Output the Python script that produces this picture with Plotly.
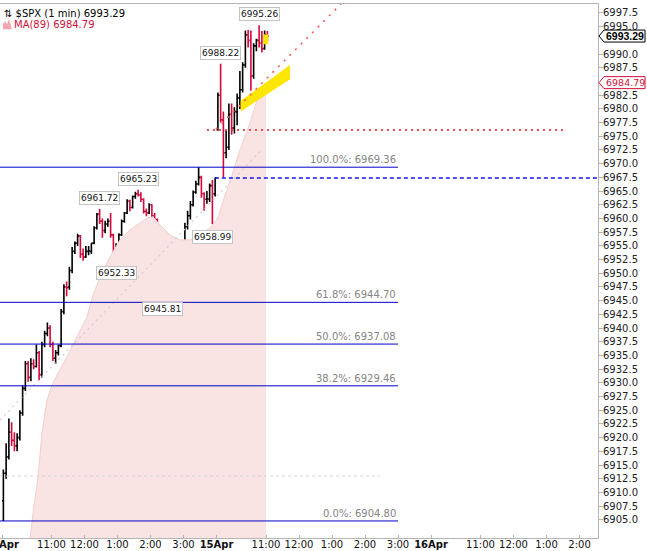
import plotly.graph_objects as go

# ---------------- data ----------------
# 5-minute OHLC bars read from the 1-minute $SPX chart (14 Apr 9:30 -> 15 Apr ~11:00)
bar_open = [6908.5, 6913.5, 6916.5, 6921.0, 6919.5, 6918.5, 6920.0, 6924.5, 6929.0, 6933.5,
            6931.0, 6933.5, 6933.0, 6935.5, 6931.5, 6937.0, 6939.0, 6940.0, 6937.0, 6934.5,
            6935.5, 6936.8, 6943.0, 6947.5, 6947.5, 6950.5, 6954.0, 6955.5, 6956.8, 6953.5,
            6953.0, 6954.0, 6954.0, 6955.5, 6958.3, 6960.8, 6959.5, 6957.8, 6959.0, 6959.5,
            6957.0, 6954.0, 6955.0, 6957.0, 6959.5, 6961.0, 6963.2, 6962.0, 6964.0, 6964.5,
            6964.3, 6963.5, 6961.3, 6961.0, 6962.5, 6960.5, 6959.8, 6955.0, 6949.5, 6947.0,
            6951.5, 6952.5, 6953.0, 6949.0, 6948.5, 6951.0, 6955.5, 6958.5, 6960.5, 6962.5,
            6964.8, 6966.3, 6967.5, 6964.5, 6963.5, 6963.5, 6966.0, 6964.5,
            6976.2, 6982.5, 6978.0, 6972.0, 6973.0, 6979.0, 6976.5, 6979.5, 6982.0, 6983.5,
            6988.0, 6993.5, 6992.5, 6986.0, 6991.5, 6992.5, 6992.0, 6991.0, 6993.5]
bar_high = [6914.2, 6919.0, 6923.5, 6922.8, 6921.0, 6920.8, 6925.0, 6929.5, 6934.0, 6934.0,
            6934.5, 6934.3, 6937.0, 6935.8, 6937.5, 6939.5, 6941.0, 6940.5, 6937.5, 6936.0,
            6937.0, 6943.5, 6948.0, 6948.5, 6951.2, 6954.8, 6955.8, 6957.2, 6957.0, 6954.5,
            6955.0, 6955.0, 6955.5, 6958.6, 6961.0, 6961.72, 6960.0, 6959.6, 6960.0, 6961.0,
            6957.2, 6955.5, 6957.3, 6959.8, 6961.2, 6963.5, 6963.4, 6964.2, 6964.9, 6965.23,
            6964.8, 6963.7, 6961.8, 6962.8, 6962.6, 6961.0, 6960.0, 6955.2, 6950.0, 6952.3,
            6952.9, 6955.4, 6953.2, 6950.0, 6951.8, 6956.0, 6959.2, 6961.4, 6963.2, 6965.1,
            6966.9, 6969.36, 6967.8, 6964.8, 6965.0, 6966.4, 6967.0, 6967.5,
            6983.0, 6988.22, 6979.5, 6976.0, 6981.0, 6981.0, 6980.3, 6982.8, 6986.9, 6988.5,
            6994.3, 6994.4, 6994.3, 6992.0, 6992.8, 6995.26, 6994.2, 6994.3, 6994.2]
bar_low = [6904.8, 6912.5, 6916.0, 6918.5, 6917.5, 6917.5, 6919.5, 6924.0, 6928.5, 6930.2,
           6930.3, 6932.5, 6932.8, 6930.5, 6931.0, 6936.5, 6938.5, 6936.5, 6934.0, 6933.5,
           6935.0, 6936.5, 6942.5, 6945.8, 6947.0, 6950.0, 6953.5, 6955.0, 6952.8, 6952.3,
           6952.8, 6953.3, 6953.5, 6955.3, 6958.0, 6959.0, 6956.5, 6957.3, 6958.5, 6956.5,
           6953.5, 6952.33, 6954.8, 6956.8, 6959.2, 6960.8, 6961.3, 6961.8, 6963.6, 6964.0,
           6963.0, 6960.9, 6960.4, 6960.8, 6960.0, 6959.5, 6954.7, 6949.0, 6945.81, 6946.8,
           6951.0, 6952.0, 6948.2, 6947.3, 6948.3, 6950.8, 6955.0, 6958.0, 6959.8, 6962.2,
           6964.5, 6966.0, 6963.8, 6961.4, 6962.7, 6963.0, 6958.99, 6964.0,
           6976.0, 6977.5, 6967.5, 6971.0, 6972.5, 6975.3, 6975.5, 6977.0, 6980.0, 6983.0,
           6987.5, 6991.2, 6983.3, 6985.5, 6990.5, 6991.2, 6990.3, 6990.8, 6992.4]
bar_close = [6913.5, 6916.5, 6921.0, 6919.5, 6918.5, 6920.0, 6924.5, 6929.0, 6933.5, 6931.0,
             6933.5, 6933.0, 6935.5, 6931.5, 6937.0, 6939.0, 6940.0, 6937.0, 6934.5, 6935.5,
             6936.8, 6943.0, 6947.5, 6947.4, 6950.5, 6954.0, 6955.5, 6956.8, 6953.5, 6953.0,
             6954.0, 6954.1, 6955.5, 6958.3, 6960.8, 6959.5, 6957.8, 6959.0, 6959.5, 6957.0,
             6954.0, 6955.0, 6957.0, 6959.5, 6961.0, 6963.2, 6962.0, 6964.0, 6964.5, 6964.3,
             6963.5, 6961.3, 6961.0, 6962.5, 6960.5, 6959.8, 6955.0, 6949.5, 6947.0, 6951.5,
             6952.5, 6953.0, 6949.0, 6948.5, 6951.0, 6955.5, 6958.5, 6960.5, 6962.5, 6964.8,
             6966.3, 6967.5, 6964.5, 6963.5, 6963.6, 6966.0, 6964.5, 6967.4,
             6982.5, 6978.0, 6972.0, 6973.0, 6979.0, 6976.5, 6979.5, 6982.0, 6983.5, 6988.0,
             6993.5, 6992.5, 6986.0, 6991.5, 6992.5, 6992.0, 6991.0, 6993.5, 6993.29]

BAR_MINUTES = 5
# session minutes since 14 Apr 9:30 (trading time, no overnight gap)
bar_time = [BAR_MINUTES * i + BAR_MINUTES / 2 for i in range(len(bar_close))]

# MA(89)
ma_time = [50, 56.4, 65.5, 72.7, 81.8, 90.9, 101.8, 118.2, 136.4, 154.5, 165.5, 178.2,
           196.4, 214.5, 232.7, 250.9, 263.6, 274.5, 287.3, 305.5, 323.6, 341.8, 360,
           378.2, 392.7, 405.5, 418.2, 432.7, 450.9, 463.6, 472.7, 480]
ma_value = [6900.5, 6906.3, 6912.8, 6920.9, 6926.9, 6929.6, 6931.8, 6934.7, 6938.4, 6942.0,
            6946.0, 6949.3, 6953.0, 6956.1, 6957.9, 6959.2, 6960.1, 6960.3, 6958.8, 6957.0,
            6956.1, 6956.1, 6957.0, 6958.3, 6960.1, 6964.3, 6967.9, 6972.5, 6977.4, 6981.6,
            6983.8, 6984.79]

fib_high = 6969.36
fib_low = 6904.80
fib_pcts = [100.0, 61.8, 50.0, 38.2, 0.0]

prev_close_level = 6967.39
open_level = 6976.15
gray_level = 6913.0

tick_minutes = [0, 90, 150, 210, 270, 330, 390, 480, 540, 600, 660, 720,
                780, 870, 930, 990, 1050]
tick_labels = ['<b>14Apr</b>', '11:00', '12:00', '1:00', '2:00', '3:00',
               '<b>15Apr</b>', '11:00', '12:00', '1:00', '2:00', '3:00',
               '<b>16Apr</b>', '11:00', '12:00', '1:00', '2:00']

price_step = 2.5
price_tick_first = 6905.0
price_tick_last = 6997.5

# labelled swing points: (bar index, which side)
swing_labels = [(93, 'high'), (79, 'high'), (49, 'high'), (35, 'high'),
                (41, 'low'), (76, 'low'), (58, 'low')]

# ---------------- layout geometry ----------------
X_RANGE = [-3.64, 1083.6]
Y_RANGE = [6901.69, 6999.14]
FONT = 'DejaVu Sans'
FIB_END = 720           # 15 Apr 3:00 pm
RED_LINE = (372.7, 1023.6)
BLUE_LINE_START = 387
DIAG_RED = ((389, 6976.3), (616.5, 6999.14))
DIAG_GRAY = ((-3.64, 6923.2), (472.7, 6972.6))
GRAY_END = 687
YELLOW_BAND = ([434, 523.6, 523.6, 434], [6981.47, 6988.03, 6985.42, 6979.52])
YELLOW_BOX = ([475, 484, 484, 475], [6991.8, 6991.8, 6993.6, 6993.6])

fig = go.Figure()

# MA mountain
fig.add_trace(go.Scatter(x=ma_time, y=ma_value, mode='lines', fill='tozeroy',
                         fillcolor='#f9e3e3', line=dict(color='#f3cfcf', width=1),
                         hoverinfo='skip', showlegend=False))

# yellow highlighter marks
for xs, ys in (YELLOW_BAND, YELLOW_BOX):
    fig.add_trace(go.Scatter(x=xs, y=ys, mode='lines', fill='toself',
                             fillcolor='#ffe600', line=dict(width=0, color='#ffe600'),
                             hoverinfo='skip', showlegend=False))


def hline(x0, x1, y, color, width=1, dash='solid'):
    fig.add_trace(go.Scatter(x=[x0, x1], y=[y, y], mode='lines',
                             line=dict(color=color, width=width, dash=dash),
                             hoverinfo='skip', showlegend=False))


# gray dashed level and gray dotted trendline
hline(X_RANGE[0], GRAY_END, gray_level, '#d4d4d4', 1, '3px,3px')
fig.add_trace(go.Scatter(x=[DIAG_GRAY[0][0], DIAG_GRAY[1][0]], y=[DIAG_GRAY[0][1], DIAG_GRAY[1][1]],
                         mode='lines', line=dict(color='#cfcfcf', width=1.2, dash='2px,4px'),
                         hoverinfo='skip', showlegend=False))

# fibonacci lines
fib_levels = [fib_low + p / 100.0 * (fib_high - fib_low) for p in fib_pcts]
for p, lv in zip(fib_pcts, fib_levels):
    hline(X_RANGE[0], FIB_END, lv, '#0000c8', 1)

# red dotted open level, blue dashed prev close, red dotted trendline
hline(RED_LINE[0], RED_LINE[1], open_level, '#e8161e', 1.3, '2px,4px')
hline(BLUE_LINE_START, X_RANGE[1], prev_close_level, '#1414f0', 1.3, '4px,3px')
fig.add_trace(go.Scatter(x=[DIAG_RED[0][0], DIAG_RED[1][0]], y=[DIAG_RED[0][1], DIAG_RED[1][1]],
                         mode='lines', line=dict(color='#ff5a5a', width=1.6, dash='2px,6px'),
                         hoverinfo='skip', showlegend=False))

# price bars
fig.add_trace(go.Ohlc(x=bar_time, open=bar_open, high=bar_high, low=bar_low, close=bar_close,
                      increasing=dict(line=dict(color='#000000', width=1.6)),
                      decreasing=dict(line=dict(color='#d6083b', width=1.6)),
                      tickwidth=0.5, hoverinfo='skip', showlegend=False))

annotations = []
# fib labels
for p, lv in zip(fib_pcts, fib_levels):
    annotations.append(dict(x=FIB_END, y=lv, xref='x', yref='y', xanchor='right', yanchor='bottom',
                            text=f'{p:.1f}%: {lv:.2f}', showarrow=False, yshift=0,
                            font=dict(family=FONT, size=10, color='#858585')))

# swing labels
for idx, side in swing_labels:
    val = bar_high[idx] if side == 'high' else bar_low[idx]
    annotations.append(dict(x=bar_time[idx], y=val, xref='x', yref='y', xanchor='center',
                            yanchor='middle', yshift=11 if side == 'high' else -12.5,
                            text=f'{val:.2f}', showarrow=False, bgcolor='white',
                            bordercolor='#c4c4c4', borderwidth=1, borderpad=1,
                            font=dict(family=FONT, size=9, color='#111111')))

last_price = bar_close[-1]
last_ma = ma_value[-1]


def ypaper(v):
    return (v - Y_RANGE[0]) / (Y_RANGE[1] - Y_RANGE[0])


# right axis ticks (those hidden under the two price tags are left out)
n_ticks = int(round((price_tick_last - price_tick_first) / price_step)) + 1
y_ticks = [price_tick_first + price_step * i for i in range(n_ticks)]
y_ticks = [t for t in y_ticks if abs(t - last_price) > 1.2 and abs(t - last_ma) > 1.2]

shapes = []
# right-axis price tags
for val, col, bold in ((last_price, '#000000', True), (last_ma, '#d0103a', False)):
    shapes.append(dict(type='path', xref='paper', yref='paper', xsizemode='pixel', ysizemode='pixel',
                       xanchor=1, yanchor=ypaper(val),
                       path='M 1,0 L 6,6 L 47,6 L 47,-6 L 6,-6 Z',
                       fillcolor='white', line=dict(color=col, width=1), layer='above'))
    annotations.append(dict(x=1, y=val, xref='paper', yref='y', xanchor='left', yanchor='middle',
                            xshift=6, text=(f'<b>{val:.2f}</b>' if bold else f'{val:.2f}'),
                            showarrow=False,
                            font=dict(family='Liberation Sans' if bold else FONT,
                                      size=10.5 if bold else 9.5, color=col)))

# legend (top-left)
annotations.append(dict(x=0, y=1 - (13.3 - 4) / 534, xref='paper', yref='paper', xanchor='left',
                        yanchor='middle', xshift=2, showarrow=False,
                        text=f'⇅ $SPX (1 min) {last_price:.2f}',
                        font=dict(family=FONT, size=10, color='#000000')))
annotations.append(dict(x=0, y=1 - (24.3 - 4) / 534, xref='paper', yref='paper', xanchor='left',
                        yanchor='middle', xshift=12, showarrow=False,
                        text=f'MA(89) {last_ma:.2f}',
                        font=dict(family=FONT, size=10, color='#d0103a')))
shapes.append(dict(type='path', xref='paper', yref='paper', xsizemode='pixel', ysizemode='pixel',
                   xanchor=0, yanchor=1 - (24.3 - 4) / 534,
                   path='M 3,-5 L 3,0 L 5,3 L 7,0 L 9,5 L 12,-5 Z',
                   fillcolor='#f2a6b0', line=dict(width=0), layer='above'))

fig.update_layout(
    width=647, height=551,
    margin=dict(l=0, r=49, t=4, b=13, autoexpand=False),
    paper_bgcolor='white', plot_bgcolor='white',
    showlegend=False,
    annotations=annotations,
    shapes=shapes,
    xaxis=dict(range=X_RANGE, tickmode='array', tickvals=tick_minutes, ticktext=tick_labels,
               showgrid=False, zeroline=False, showline=True, mirror=True, linecolor='#b4b4b4',
               ticks='inside', ticklen=3, tickcolor='#b4b4b4', ticklabelstandoff=-3,
               ticklabeloverflow='allow', automargin=False,
               tickfont=dict(family=FONT, size=10, color='#111111'),
               rangeslider=dict(visible=False), fixedrange=True),
    yaxis=dict(range=Y_RANGE, side='right', tickmode='array', tickvals=y_ticks,
               ticktext=[f'{t:.1f}' for t in y_ticks], automargin=False,
               showgrid=False, zeroline=False, showline=True, mirror=True, linecolor='#b4b4b4',
               ticks='outside', ticklen=4, tickcolor='#b4b4b4', ticklabelstandoff=-2,
               tickfont=dict(family=FONT, size=10, color='#222222'), fixedrange=True),
)

fig.write_html('out.html', config={'displayModeBar': False},
               post_script="document.body.style.margin='0';document.body.style.padding='0';")
